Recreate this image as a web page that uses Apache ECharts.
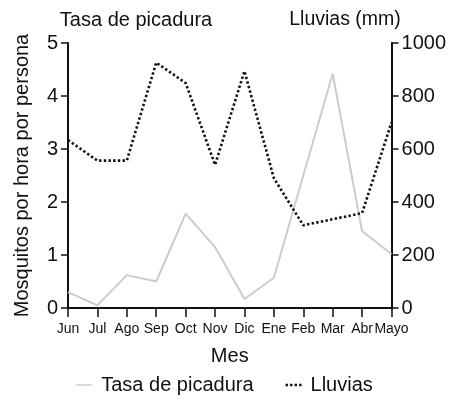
<!DOCTYPE html>
<html><head><meta charset="utf-8">
<script src="https://cdn.jsdelivr.net/npm/echarts@6/dist/echarts.min.js"></script>
<style>html,body{margin:0;padding:0;background:#fff}#c{width:449px;height:405px}</style>
</head><body><div id="c"></div>
<script>
const months = ['Jun','Jul','Ago','Sep','Oct','Nov','Dic','Ene','Feb','Mar','Abr','Mayo'];
const bitingRate = [0.3, 0.05, 0.62, 0.5, 1.78, 1.15, 0.17, 0.57, 2.5, 4.42, 1.45, 1.02];
const rainfall = [634, 556, 556, 926, 849, 540, 894, 490, 312, 335, 358, 700];
const leftTicks = [0,1,2,3,4,5];
const rightTicks = [0,200,400,600,800,1000];

const F = '"Liberation Sans", Arial, sans-serif';
const chart = echarts.init(document.getElementById('c'));
chart.setOption({
  animation: false,
  textStyle: {fontFamily: F},
  grid: {left: 68, right: 57, top: 43, bottom: 97},
  title: [
    {text: 'Tasa de picadura', left: 131, top: 5, textAlign: 'center',
     textStyle: {fontFamily: F, fontSize: 20, fontWeight: 'normal', color: '#111'}},
    {text: 'Lluvias (mm)', left: 340, top: 5, textAlign: 'center',
     textStyle: {fontFamily: F, fontSize: 19.5, fontWeight: 'normal', color: '#111'}}
  ],
  legend: {
    bottom: 5, left: 'center', itemGap: 32, itemWidth: 16, itemHeight: 10,
    textStyle: {fontFamily: F, fontSize: 20, color: '#111', padding: [0,0,0,4]},
    data: [{name: 'Tasa de picadura', icon: 'path://M0,4.3 L16,4.3 L16,5.7 L0,5.7 Z', itemStyle: {color: '#cccccc'}},
           {name: 'Lluvias', icon: 'path://M0,4h2.4v2.4h-2.4zM4.5,4h2.4v2.4h-2.4zM9,4h2.4v2.4h-2.4zM13.5,4h2.4v2.4h-2.4z', itemStyle: {color: '#111'}}]
  },
  xAxis: {
    type: 'category', data: months, boundaryGap: false,
    name: 'Mes', nameLocation: 'middle', nameGap: 38,
    nameTextStyle: {fontFamily: F, fontSize: 20, color: '#111'},
    axisLine: {lineStyle: {color: '#111', width: 2}},
    axisTick: {length: 9, lineStyle: {color: '#111', width: 1.5}},
    axisLabel: {fontFamily: F, fontSize: 14, color: '#111', margin: 14, interval: 0},
    splitLine: {show: false}
  },
  yAxis: [
    {type: 'value', min: 0, max: 5, interval: 1,
     name: 'Mosquitos por hora por persona', nameLocation: 'middle', nameGap: 36,
     nameTextStyle: {fontFamily: F, fontSize: 20, color: '#111'},
     axisLine: {show: true, lineStyle: {color: '#111', width: 2}},
     axisTick: {show: true, length: 7, lineStyle: {color: '#111', width: 1.5}},
     axisLabel: {fontFamily: F, fontSize: 20, color: '#111', margin: 10,
                 formatter: v => leftTicks.includes(v) ? String(v) : ''},
     splitLine: {show: false}},
    {type: 'value', min: 0, max: 1000, interval: 200, position: 'right',
     axisLine: {show: true, lineStyle: {color: '#111', width: 2}},
     axisTick: {show: true, length: 7, lineStyle: {color: '#111', width: 1.5}},
     axisLabel: {fontFamily: F, fontSize: 20, color: '#111', margin: 10,
                 formatter: v => rightTicks.includes(v) ? String(v) : ''},
     splitLine: {show: false}}
  ],
  series: [
    {name: 'Tasa de picadura', type: 'line', yAxisIndex: 0, data: bitingRate,
     symbol: 'none', lineStyle: {color: '#cccccc', width: 2}, itemStyle: {color: '#cccccc'}, z: 2},
    {name: 'Lluvias', type: 'line', yAxisIndex: 1, data: rainfall,
     symbol: 'none', lineStyle: {color: '#111', width: 2.6, type: [2.4, 2.3]}, itemStyle: {color: '#111'}, z: 3}
  ]
});
</script></body></html>
